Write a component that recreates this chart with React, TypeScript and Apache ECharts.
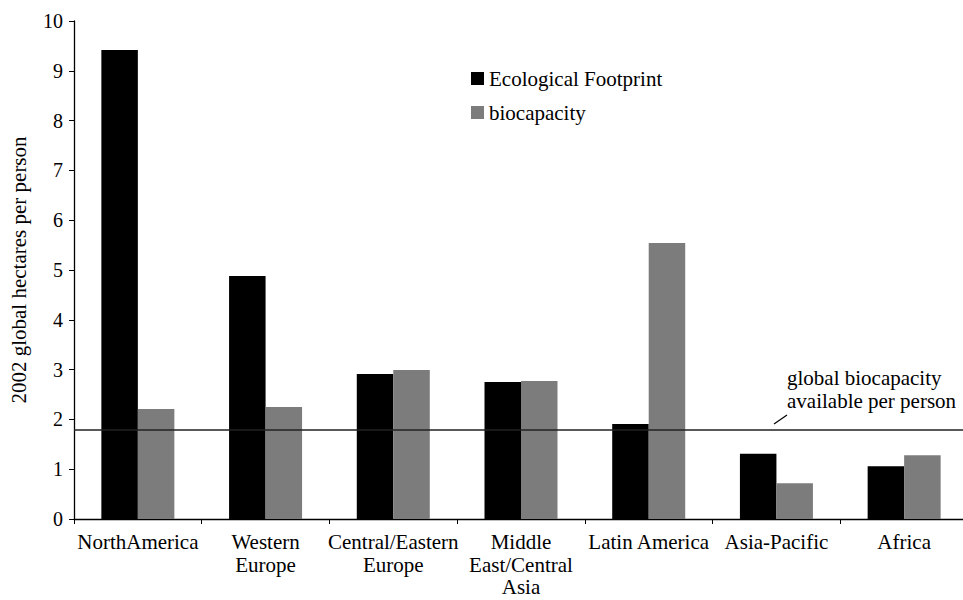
import React, { useEffect, useRef } from "react";
import * as echarts from "echarts";

const categories = [
  "NorthAmerica",
  "Western\nEurope",
  "Central/Eastern\nEurope",
  "Middle\nEast/Central\nAsia",
  "Latin America",
  "Asia-Pacific",
  "Africa",
];
const footprint = [9.42, 4.88, 2.91, 2.75, 1.91, 1.31, 1.06];
const biocapacity = [2.21, 2.25, 2.99, 2.77, 5.54, 0.72, 1.28];
const globalBiocapacity = 1.8;
const seriesNames = ["Ecological Footprint", "biocapacity"];

const FONT = "'Liberation Serif', 'Times New Roman', serif";

export default function App() {
  const ref = useRef<HTMLDivElement>(null);
  useEffect(() => {
    if (!ref.current) return;
    const chart = echarts.init(ref.current, undefined, { renderer: "svg" });
    chart.setOption({
      animation: false,
      backgroundColor: "#ffffff",
      textStyle: { fontFamily: FONT, color: "#000" },
      grid: {
        left: 74,
        top: 21,
        height: 498,
        right: -5,
        containLabel: false,
        outerBoundsMode: "none",
      },
      legend: {
        orient: "vertical",
        left: 466,
        top: 63,
        itemWidth: 13,
        itemHeight: 13,
        itemGap: 13,
        icon: "rect",
        textStyle: { fontFamily: FONT, fontSize: 21, color: "#000", lineHeight: 21 },
        data: seriesNames,
      },
      xAxis: {
        type: "category",
        data: categories,
        axisLine: { lineStyle: { color: "#000", width: 1.3 } },
        axisTick: { show: true, length: 5, inside: false, lineStyle: { color: "#000" } },
        axisLabel: {
          interval: 0,
          fontFamily: FONT,
          fontSize: 21,
          color: "#000",
          lineHeight: 22.5,
          margin: 12,
        },
      },
      yAxis: {
        type: "value",
        min: 0,
        max: 10,
        interval: 1,
        name: "2002 global hectares per person",
        nameLocation: "middle",
        nameGap: 45,
        nameTextStyle: { fontFamily: FONT, fontSize: 21, color: "#000" },
        axisLine: { show: true, lineStyle: { color: "#000", width: 1.3 } },
        axisTick: { show: true, length: 5, lineStyle: { color: "#000" } },
        splitLine: { show: false },
        axisLabel: { fontFamily: FONT, fontSize: 20, color: "#000", margin: 11 },
      },
      series: [
        {
          name: seriesNames[0],
          type: "bar",
          data: footprint,
          barWidth: 36.5,
          barGap: "0%",
          itemStyle: { color: "#000000" },
          markLine: {
            silent: true,
            symbol: "none",
            label: { show: false },
            lineStyle: { color: "#222", width: 1.5, type: "solid" },
            data: [{ yAxis: globalBiocapacity }],
          },
        },
        {
          name: seriesNames[1],
          type: "bar",
          data: biocapacity,
          barWidth: 36.5,
          barGap: "0%",
          itemStyle: { color: "#7c7c7c" },
        },
      ],
      graphic: [
        {
          type: "text",
          left: 787,
          top: 366,
          style: {
            text: "global biocapacity\navailable per person",
            fontFamily: FONT,
            fontSize: 21,
            lineHeight: 23,
            fill: "#000",
          },
        },
        {
          type: "line",
          shape: { x1: 774, y1: 424, x2: 787, y2: 415 },
          style: { stroke: "#000", lineWidth: 1.2 },
        },
      ],
    });
    return () => chart.dispose();
  }, []);
  return (
    <div
      ref={ref}
      style={{ position: "fixed", left: 0, top: 0, width: 963, height: 600 }}
    />
  );
}
